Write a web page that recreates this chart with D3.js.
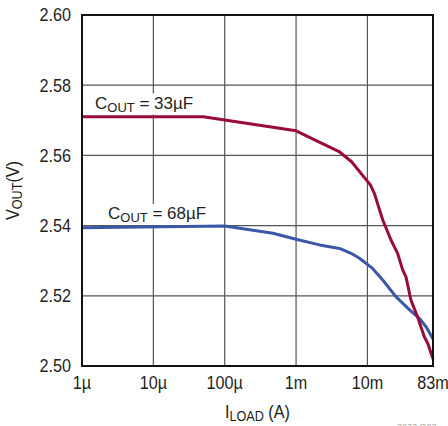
<!DOCTYPE html>
<html>
<head>
<meta charset="utf-8">
<script src="https://cdn.jsdelivr.net/npm/d3@7"></script>
<style>
  body { margin: 0; background: #fff; }
  svg { display: block; }
  text { font-family: "Liberation Sans Narrow", "Liberation Sans", Arial, sans-serif; fill: #231f20; }
</style>
</head>
<body>
<div id="chart"></div>
<script>
// load current (A) and output voltage (V)
const loadCurrent33 = [1e-6, 5e-5, 1e-4, 1e-3, 4e-3, 6e-3, 1.1e-2, 1.25e-2, 1.64e-2, 2.14e-2, 2.65e-2, 3.12e-2, 3.47e-2, 4.07e-2, 5.04e-2, 6.25e-2, 7.0e-2, 8.3e-2];
const vout33 = [2.571, 2.571, 2.5701, 2.567, 2.5611, 2.5582, 2.5516, 2.5492, 2.5416, 2.5359, 2.5321, 2.5274, 2.5254, 2.5188, 2.514, 2.5084, 2.5065, 2.502];

const loadCurrent68 = [1e-6, 1e-4, 4.74e-4, 1e-3, 2.13e-3, 4.06e-3, 5.9e-3, 7.73e-3, 1.18e-2, 1.64e-2, 2.52e-2, 3.9e-2, 5.33e-2, 6.64e-2, 8.3e-2];
const vout68 = [2.5394, 2.5399, 2.5378, 2.5361, 2.5345, 2.5335, 2.5321, 2.5307, 2.5278, 2.5245, 2.5197, 2.516, 2.5136, 2.5112, 2.5077];

const xTicks = [1e-6, 1e-5, 1e-4, 1e-3, 1e-2, 0.083];
const xTickLabels = ["1µ", "10µ", "100µ", "1m", "10m", "83m"];
const yTicks = [2.50, 2.52, 2.54, 2.56, 2.58, 2.60];

const width = 448;
const height = 426;
const margin = { top: 15, right: 15, bottom: 60, left: 82 };
const squeeze = 0.9; // the original type is a narrow face

const x = d3.scaleLog()
    .domain([1e-6, 0.083])
    .range([margin.left, width - margin.right]);

const y = d3.scaleLinear()
    .domain([2.50, 2.60])
    .range([height - margin.bottom, margin.top]);

const svg = d3.select("#chart")
    .append("svg")
    .attr("width", width)
    .attr("height", height);

// grid
svg.append("g")
    .selectAll("line")
    .data(xTicks.slice(1, -1))
    .enter()
    .append("line")
    .attr("x1", d => x(d))
    .attr("x2", d => x(d))
    .attr("y1", margin.top)
    .attr("y2", height - margin.bottom)
    .attr("stroke", "#555")
    .attr("stroke-width", 1.2);

svg.append("g")
    .selectAll("line")
    .data(yTicks.slice(1, -1))
    .enter()
    .append("line")
    .attr("x1", margin.left)
    .attr("x2", width - margin.right)
    .attr("y1", d => y(d))
    .attr("y2", d => y(d))
    .attr("stroke", "#555")
    .attr("stroke-width", 1.2);

// tick labels
svg.append("g")
    .selectAll("text")
    .data(xTicks)
    .enter()
    .append("text")
    .attr("transform", d => `translate(${x(d)},389) scale(${squeeze},1)`)
    .attr("text-anchor", "middle")
    .attr("font-size", 18)
    .text((d, i) => xTickLabels[i]);

svg.append("g")
    .selectAll("text")
    .data(yTicks)
    .enter()
    .append("text")
    .attr("transform", d => `translate(71,${y(d)}) scale(${squeeze},1)`)
    .attr("dy", "0.36em")
    .attr("text-anchor", "end")
    .attr("font-size", 18)
    .text(d => d.toFixed(2));

// series labels with white backing
function curveLabel(px, py, value) {
  const g = svg.append("g");
  const t = g.append("text")
      .attr("x", px)
      .attr("y", py)
      .attr("font-size", 17);
  t.append("tspan").text("C");
  t.append("tspan").attr("font-size", 13).attr("dy", 3).text("OUT");
  t.append("tspan").attr("dy", -3).text(" = " + value);
  const b = t.node().getBBox();
  g.insert("rect", "text")
      .attr("x", b.x - 3)
      .attr("y", b.y)
      .attr("width", b.width + 6)
      .attr("height", b.height)
      .attr("fill", "#fff");
}
curveLabel(95, 108.5, "33µF");
curveLabel(108, 219, "68µF");

// curves
const line = d3.line()
    .x(d => x(d[0]))
    .y(d => y(d[1]));

svg.append("path")
    .datum(d3.zip(loadCurrent68, vout68))
    .attr("fill", "none")
    .attr("stroke", "#3b58a8")
    .attr("stroke-width", 3)
    .attr("stroke-linejoin", "round")
    .attr("d", line);

svg.append("path")
    .datum(d3.zip(loadCurrent33, vout33))
    .attr("fill", "none")
    .attr("stroke", "#9a0a3c")
    .attr("stroke-width", 3)
    .attr("stroke-linejoin", "round")
    .attr("d", line);

// frame
svg.append("rect")
    .attr("x", margin.left)
    .attr("y", margin.top)
    .attr("width", width - margin.left - margin.right)
    .attr("height", height - margin.top - margin.bottom)
    .attr("fill", "none")
    .attr("stroke", "#111")
    .attr("stroke-width", 2);

// axis titles
const xt = svg.append("text")
    .attr("transform", `translate(${(margin.left + width - margin.right) / 2},418) scale(${squeeze},1)`)
    .attr("text-anchor", "middle")
    .attr("font-size", 18);
xt.append("tspan").text("I");
xt.append("tspan").attr("font-size", 14).attr("dy", 3).text("LOAD");
xt.append("tspan").attr("dy", -3).text(" (A)");

const yt = svg.append("text")
    .attr("transform", `translate(19,${(margin.top + height - margin.bottom) / 2}) rotate(-90) scale(${squeeze},1)`)
    .attr("text-anchor", "middle")
    .attr("font-size", 18);
yt.append("tspan").text("V");
yt.append("tspan").attr("font-size", 14).attr("dy", 3).text("OUT");
yt.append("tspan").attr("dy", -3).text("(V)");

// figure id, clipped by the bottom edge as in the original
svg.append("text")
    .attr("x", 397)
    .attr("y", 430)
    .attr("font-size", 9)
    .style("fill", "#aaa")
    .text("3633 G03");
</script>
</body>
</html>
